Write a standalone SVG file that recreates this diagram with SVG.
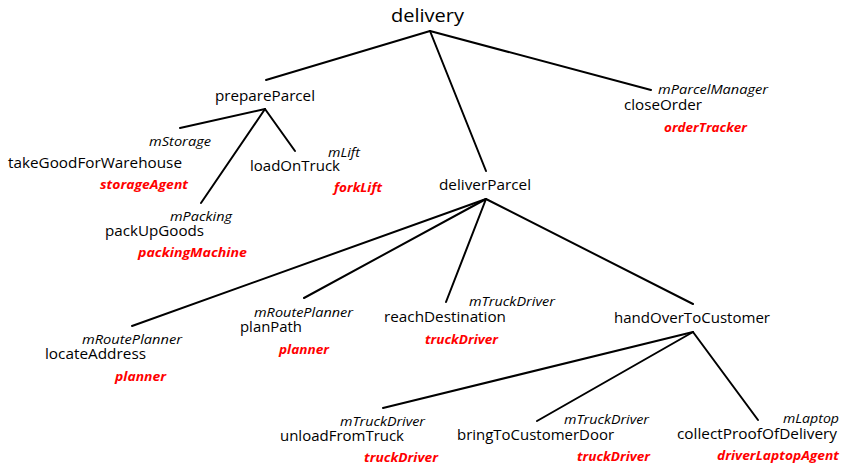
<svg xmlns="http://www.w3.org/2000/svg" width="842" height="466" viewBox="0 0 842 466">
<style>
text{font-family:"Open Sans","Liberation Sans",sans-serif;fill:#000}
.n{font-size:15px}
.r{font-size:18px}
.m{font-size:12.5px;font-style:italic}
.a{font-size:13px;font-style:italic;font-weight:bold;fill:#ff0000}
#connectors line{stroke:#000;stroke-width:2;stroke-linecap:round}
</style>
<rect width="842" height="466" fill="#fff"/>
<g id="connectors">
<line x1="430" y1="31" x2="266" y2="80"/>
<line x1="430" y1="31" x2="486" y2="171"/>
<line x1="430" y1="31" x2="651" y2="90"/>
<line x1="265" y1="109" x2="180" y2="128"/>
<line x1="265" y1="109" x2="201" y2="203"/>
<line x1="265" y1="109" x2="295" y2="151"/>
<line x1="486" y1="199" x2="132" y2="326"/>
<line x1="486" y1="199" x2="304" y2="298"/>
<line x1="486" y1="199" x2="446" y2="302"/>
<line x1="486" y1="199" x2="693" y2="304"/>
<line x1="693" y1="332" x2="383" y2="408"/>
<line x1="693" y1="332" x2="537" y2="421"/>
<line x1="693" y1="332" x2="758" y2="420"/>
</g>
<g id="delivery"><text class="r" x="391" y="22" textLength="73" lengthAdjust="spacingAndGlyphs">delivery</text></g>
<g id="prepareParcel"><text class="n" x="215" y="101" textLength="100" lengthAdjust="spacingAndGlyphs">prepareParcel</text></g>
<g id="closeOrder">
<text class="m" x="658" y="94" textLength="110" lengthAdjust="spacingAndGlyphs">mParcelManager</text>
<text class="n" x="624" y="110" textLength="78" lengthAdjust="spacingAndGlyphs">closeOrder</text>
<text class="a" x="664" y="132" textLength="83" lengthAdjust="spacingAndGlyphs">orderTracker</text>
</g>
<g id="takeGoodForWarehouse">
<text class="m" x="149" y="146" textLength="62" lengthAdjust="spacingAndGlyphs">mStorage</text>
<text class="n" x="8" y="168" textLength="174" lengthAdjust="spacingAndGlyphs">takeGoodForWarehouse</text>
<text class="a" x="100" y="189" textLength="88" lengthAdjust="spacingAndGlyphs">storageAgent</text>
</g>
<g id="loadOnTruck">
<text class="m" x="328" y="157" textLength="32" lengthAdjust="spacingAndGlyphs">mLift</text>
<text class="n" x="250" y="171" textLength="90" lengthAdjust="spacingAndGlyphs">loadOnTruck</text>
<text class="a" x="334" y="192" textLength="48" lengthAdjust="spacingAndGlyphs">forkLift</text>
</g>
<g id="packUpGoods">
<text class="m" x="170" y="221" textLength="62" lengthAdjust="spacingAndGlyphs">mPacking</text>
<text class="n" x="105" y="236" textLength="99" lengthAdjust="spacingAndGlyphs">packUpGoods</text>
<text class="a" x="138" y="257" textLength="109" lengthAdjust="spacingAndGlyphs">packingMachine</text>
</g>
<g id="deliverParcel"><text class="n" x="439" y="190" textLength="92" lengthAdjust="spacingAndGlyphs">deliverParcel</text></g>
<g id="locateAddress">
<text class="m" x="82" y="344" textLength="100" lengthAdjust="spacingAndGlyphs">mRoutePlanner</text>
<text class="n" x="45" y="359" textLength="101" lengthAdjust="spacingAndGlyphs">locateAddress</text>
<text class="a" x="115" y="381" textLength="51" lengthAdjust="spacingAndGlyphs">planner</text>
</g>
<g id="planPath">
<text class="m" x="254" y="317" textLength="99" lengthAdjust="spacingAndGlyphs">mRoutePlanner</text>
<text class="n" x="240" y="332" textLength="62" lengthAdjust="spacingAndGlyphs">planPath</text>
<text class="a" x="279" y="354" textLength="50" lengthAdjust="spacingAndGlyphs">planner</text>
</g>
<g id="reachDestination">
<text class="m" x="469" y="306" textLength="86" lengthAdjust="spacingAndGlyphs">mTruckDriver</text>
<text class="n" x="384" y="322" textLength="122" lengthAdjust="spacingAndGlyphs">reachDestination</text>
<text class="a" x="425" y="344" textLength="73" lengthAdjust="spacingAndGlyphs">truckDriver</text>
</g>
<g id="handOverToCustomer"><text class="n" x="614" y="323" textLength="156" lengthAdjust="spacingAndGlyphs">handOverToCustomer</text></g>
<g id="unloadFromTruck">
<text class="m" x="340" y="426" textLength="85" lengthAdjust="spacingAndGlyphs">mTruckDriver</text>
<text class="n" x="280" y="441" textLength="124" lengthAdjust="spacingAndGlyphs">unloadFromTruck</text>
<text class="a" x="364" y="462" textLength="74" lengthAdjust="spacingAndGlyphs">truckDriver</text>
</g>
<g id="bringToCustomerDoor">
<text class="m" x="564" y="424" textLength="85" lengthAdjust="spacingAndGlyphs">mTruckDriver</text>
<text class="n" x="457" y="440" textLength="157" lengthAdjust="spacingAndGlyphs">bringToCustomerDoor</text>
<text class="a" x="577" y="461" textLength="73" lengthAdjust="spacingAndGlyphs">truckDriver</text>
</g>
<g id="collectProofOfDelivery">
<text class="m" x="783" y="423" textLength="56" lengthAdjust="spacingAndGlyphs">mLaptop</text>
<text class="n" x="677" y="439" textLength="160" lengthAdjust="spacingAndGlyphs">collectProofOfDelivery</text>
<text class="a" x="717" y="460" textLength="122" lengthAdjust="spacingAndGlyphs">driverLaptopAgent</text>
</g>
</svg>
